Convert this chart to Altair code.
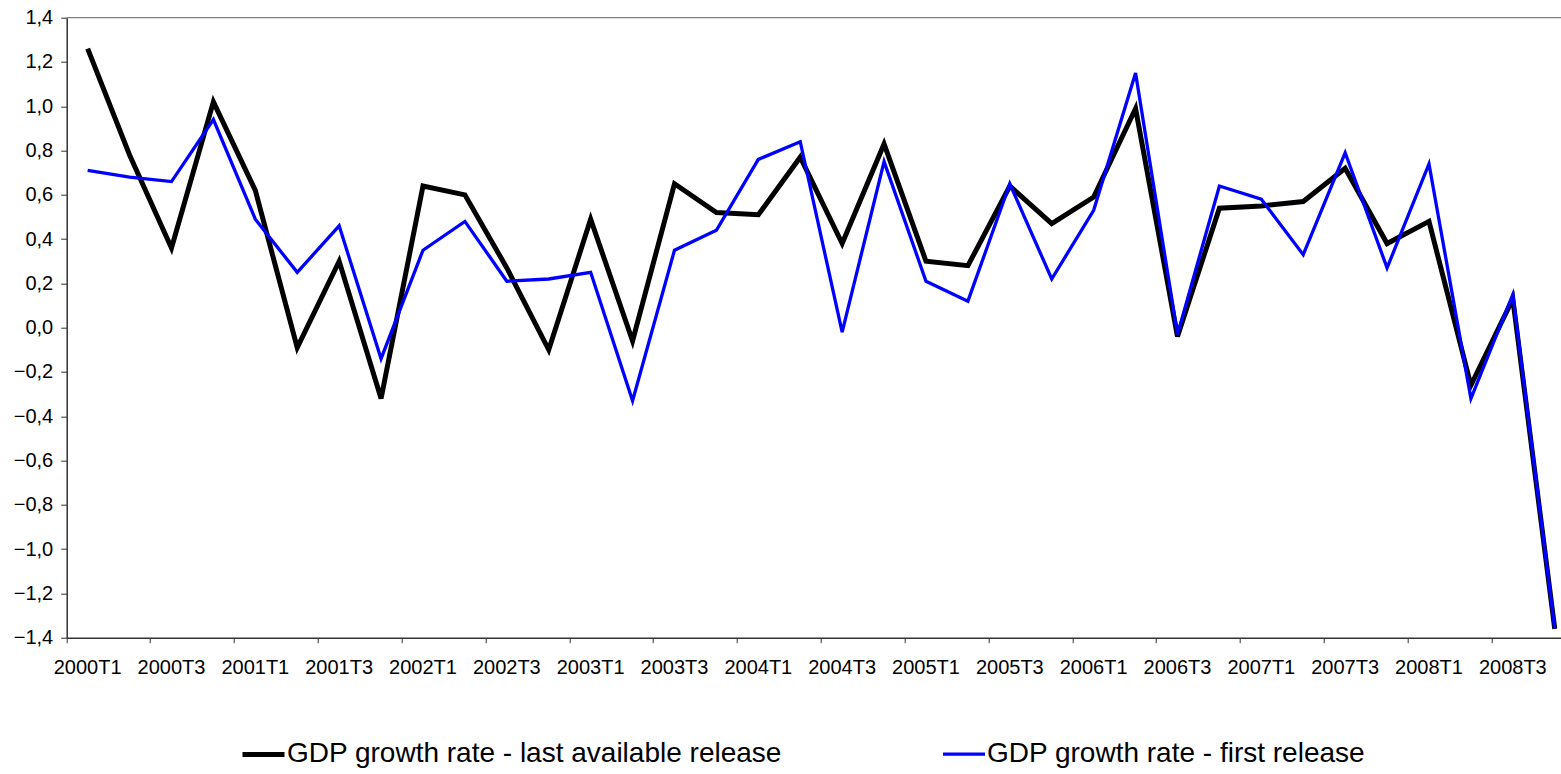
import altair as alt
import pandas as pd

quarters = [
    "2000T1", "2000T2", "2000T3", "2000T4",
    "2001T1", "2001T2", "2001T3", "2001T4",
    "2002T1", "2002T2", "2002T3", "2002T4",
    "2003T1", "2003T2", "2003T3", "2003T4",
    "2004T1", "2004T2", "2004T3", "2004T4",
    "2005T1", "2005T2", "2005T3", "2005T4",
    "2006T1", "2006T2", "2006T3", "2006T4",
    "2007T1", "2007T2", "2007T3", "2007T4",
    "2008T1", "2008T2", "2008T3", "2008T4",
]
last_release = [
    1.26, 0.78, 0.36, 1.02,
    0.62, -0.09, 0.30, -0.32,
    0.64, 0.60, 0.27, -0.10,
    0.49, -0.06, 0.65, 0.52,
    0.51, 0.77, 0.38, 0.83,
    0.30, 0.28, 0.64, 0.47,
    0.59, 0.99, -0.04, 0.54,
    0.55, 0.57, 0.72, 0.38,
    0.48, -0.26, 0.13, -1.36,
]
first_release = [
    0.71, 0.68, 0.66, 0.94,
    0.49, 0.25, 0.46, -0.14,
    0.35, 0.48, 0.21, 0.22,
    0.25, -0.33, 0.35, 0.44,
    0.76, 0.84, -0.02, 0.75,
    0.21, 0.12, 0.65, 0.22,
    0.53, 1.15, -0.03, 0.64,
    0.58, 0.33, 0.79, 0.27,
    0.74, -0.32, 0.15, -1.36,
]
series_names = [
    "GDP growth rate - last available release",
    "GDP growth rate - first release",
]
series_colors = ["#000000", "#0000FF"]
series_widths = [5, 3.3]
y_ticks = [-1.4, -1.2, -1.0, -0.8, -0.6, -0.4, -0.2, 0.0,
           0.2, 0.4, 0.6, 0.8, 1.0, 1.2, 1.4]
x_label_quarters = [q for q in quarters if q.endswith("T1") or q.endswith("T3")]

rows = []
for q, a in zip(quarters, last_release):
    rows.append({"quarter": q, "series": series_names[0], "value": a})
for q, b in zip(quarters, first_release):
    rows.append({"quarter": q, "series": series_names[1], "value": b})
df = pd.DataFrame(rows)

FONT = "Liberation Sans"
W = 1494.3
H = 620
X_RANGE = 1509

legend = alt.Legend(
    orient="none", legendX=173.3, legendY=713, direction="horizontal",
    title=None, symbolType="stroke", symbolSize=1764,
    labelFontSize=28, labelFont=FONT, labelColor="black",
    labelLimit=1000, columnPadding=154, labelOffset=0, padding=0,
)

x_enc = alt.X(
    "quarter:O", sort=quarters,
    scale=alt.Scale(type="band", domain=quarters, range=[0, X_RANGE],
                    paddingInner=0, paddingOuter=0),
    axis=alt.Axis(values=x_label_quarters, bandPosition=0, labelAngle=0,
                  title=None, tickSize=5, labelPadding=15, labelFontSize=20,
                  domainColor="#333333", tickColor="#333333", domainWidth=1.5,
                  labelFlush=False, labelOverlap=False, grid=False),
)
y_enc = alt.Y(
    "value:Q",
    scale=alt.Scale(domain=[-1.4, 1.4], nice=False, zero=False),
    axis=alt.Axis(values=y_ticks, title=None, grid=False, tickSize=6,
                  labelPadding=8, labelFontSize=20,
                  labelExpr="replace(format(datum.value, '.1f'), '.', ',')",
                  domainColor="#333333", tickColor="#333333", domainWidth=1.5),
)
color_enc = alt.Color(
    "series:N",
    scale=alt.Scale(domain=series_names, range=series_colors),
    legend=legend,
)
width_enc = alt.StrokeWidth(
    "series:O",
    scale=alt.Scale(domain=series_names, range=series_widths),
    legend=legend,
)

base = alt.Chart(df)
line_last = base.mark_line(strokeJoin="miter", clip=False).encode(
    x=x_enc, y=y_enc, color=color_enc, strokeWidth=width_enc
).transform_filter(alt.datum.series == series_names[0])
line_first = base.mark_line(strokeJoin="miter", clip=False).encode(
    x=x_enc, y=y_enc, color=color_enc, strokeWidth=width_enc
).transform_filter(alt.datum.series == series_names[1])

top_border = alt.Chart(pd.DataFrame({"k": [0]})).mark_rule(
    color="#808080", strokeWidth=1.2
).encode(x=alt.value(0), x2=alt.value(W), y=alt.value(0))

chart = alt.layer(top_border, line_last, line_first).properties(
    width=W, height=H,
    autosize=alt.AutoSizeParams(type="none"),
    padding={"left": 66.7, "top": 17.7, "right": 0, "bottom": 136.3},
).configure_view(stroke=None).configure_axis(
    labelFont=FONT, labelColor="black"
)

chart.save("out.html", embed_options={"renderer": "svg", "actions": False})
